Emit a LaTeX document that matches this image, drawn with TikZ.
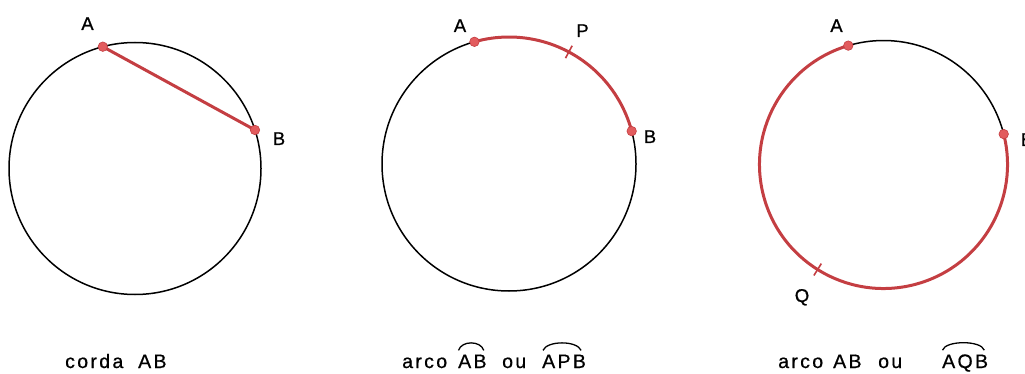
\documentclass[tikz,border=0pt]{standalone}
\usepackage{fontspec}
\setmainfont[FakeBold=0.6]{Liberation Sans}
\newfontfamily\lblfont[FakeBold=0.8]{Liberation Sans}
\newfontfamily\capfont[LetterSpace=12,FakeBold=0.7]{Liberation Sans}
\definecolor{arcred}{RGB}{196,62,66}
\definecolor{dotred}{RGB}{226,92,94}
\begin{document}
\begin{tikzpicture}[x=1pt,y=1pt,
  circ/.style={line width=1.5pt, black},
  redarc/.style={line width=3pt, arcred},
  tickmark/.style={line width=1.6pt, arcred},
  dot/.style={circle, fill=dotred, draw=arcred, line width=0.6pt, inner sep=0pt, minimum size=9.5pt},
  lbl/.style={font=\lblfont\fontsize{18.5}{18.5}\selectfont, inner sep=0pt, anchor=base},
  captext/.style={font=\capfont\fontsize{19.5}{19.5}\selectfont, inner sep=0pt, anchor=base west},
  hat/.style={line width=1.3pt, black}]
\useasboundingbox (0,0) rectangle (1025,-374);
\clip (0,0) rectangle (1025,-374);
% centres
\coordinate (c1) at (135,-168.5);
\coordinate (c2) at (509,-164);
\coordinate (c3) at (883.5,-164.5);
% ---------- circle 1: chord
\draw[circ] (c1) circle[radius=126];
\coordinate (A1) at ([shift={(104.8:126)}]c1);
\coordinate (B1) at ([shift={(17.8:126)}]c1);
\draw[redarc] (A1) -- (B1);
\node[dot] (dA1) at (A1) {};
\node[dot] (dB1) at (B1) {};
\node[lbl] (lA1) at (87.5,-30) {A};
\node[lbl] (lB1) at (279,-145) {B};
% ---------- circle 2: minor arc
\draw[circ] (c2) circle[radius=127];
\coordinate (A2) at ([shift={(105.8:127)}]c2);
\coordinate (B2) at ([shift={(15:127)}]c2);
\draw[redarc] (B2) arc[start angle=15, end angle=105.8, radius=127];
\coordinate (P2i) at ([shift={(61.9:120)}]c2);
\coordinate (P2o) at ([shift={(61.9:134)}]c2);
\draw[tickmark] (P2i) -- (P2o);
\node[dot] (dA2) at (A2) {};
\node[dot] (dB2) at (B2) {};
\node[lbl] (lA2) at (460,-32) {A};
\node[lbl] (lP2) at (582.5,-37) {P};
\node[lbl] (lB2) at (650,-143) {B};
% ---------- circle 3: major arc
\coordinate (A3) at ([shift={(106.5:124)}]c3);
\coordinate (B3) at ([shift={(14.2:124)}]c3);
\draw[circ] (B3) arc[start angle=14.2, end angle=106.5, radius=124];
\draw[redarc] (A3) arc[start angle=106.5, end angle=374.2, radius=124];
\coordinate (Q3i) at ([shift={(237.9:117)}]c3);
\coordinate (Q3o) at ([shift={(237.9:131)}]c3);
\draw[tickmark] (Q3i) -- (Q3o);
\node[dot] (dA3) at (A3) {};
\node[dot] (dB3) at (B3) {};
\node[lbl] (lA3) at (836.5,-32) {A};
\node[lbl] (lQ3) at (802,-302) {Q};
\node[lbl] (lB3) at (1027,-146) {B};
% ---------- captions
\node[captext] (k1a) at (65,-368) {corda};
\node[captext] (k1b) at (138,-368) {AB};
\node[captext] (k2a) at (402,-368) {arco};
\node[captext] (k2b) at (458,-368) {AB};
\node[captext] (k2c) at (502,-368) {ou};
\node[captext] (k2d) at (542,-368) {APB};
\node[captext] (k3a) at (778,-368) {arco};
\node[captext] (k3b) at (833,-368) {AB};
\node[captext] (k3c) at (878,-368) {ou};
\node[captext] (k3d) at (942,-368) {AQB};
\draw[hat] ([xshift=0.5pt,yshift=4pt]k2b.north west) .. controls +(3,10) and +(-3,10) .. ([xshift=-3pt,yshift=4pt]k2b.north east);
\draw[hat] ([xshift=1pt,yshift=4pt]k2d.north west) .. controls +(4,10) and +(-4,10) .. ([xshift=-5pt,yshift=4pt]k2d.north east);
\draw[hat] ([xshift=0.5pt,yshift=4pt]k3d.north west) .. controls +(3,10) and +(-3,10) .. ([xshift=-4pt,yshift=4pt]k3d.north east);
\end{tikzpicture}
\end{document}
